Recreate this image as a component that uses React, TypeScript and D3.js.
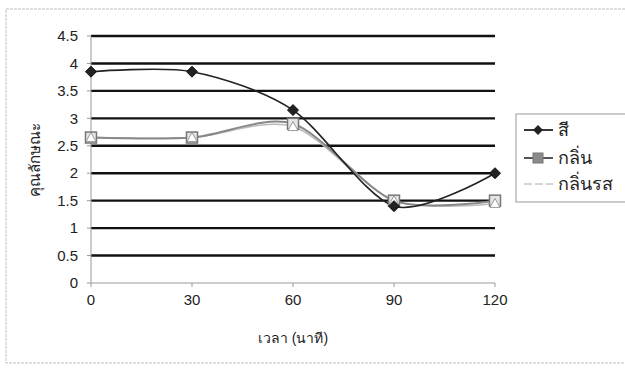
import React from "react";
import * as d3 from "d3";

const times = [0, 30, 60, 90, 120];
const colorSeries = [3.85, 3.85, 3.15, 1.4, 2.0];
const smellSeries = [2.65, 2.65, 2.9, 1.5, 1.5];
const flavorSeries = [2.65, 2.65, 2.85, 1.5, 1.45];
const yTicks = [0, 0.5, 1, 1.5, 2, 2.5, 3, 3.5, 4, 4.5];
const xTicks = [0, 30, 60, 90, 120];
const seriesNames = ["สี", "กลิ่น", "กลิ่นรส"];
const xTitle = "เวลา (นาที)";
const yTitle = "คุณลักษณะ";

const W = 625;
const H = 369;
const FONT = "'Liberation Sans', Arial, 'Noto Sans', sans-serif";

export default function App() {
  const x = d3.scaleLinear().domain([0, 120]).range([91, 495]);
  const y = d3.scaleLinear().domain([0, 4.5]).range([283, 36]);
  const line = d3
    .line<number>()
    .x((_, i) => x(times[i]))
    .y((d) => y(d))
    .curve(d3.curveCardinal.tension(0.15));

  const diamond = (cx: number, cy: number, r = 5.5) =>
    `M${cx},${cy - r}L${cx + r},${cy}L${cx},${cy + r}L${cx - r},${cy}Z`;
  const tri = (cx: number, cy: number, r = 5) =>
    `M${cx},${cy - r}L${cx + r},${cy + r * 0.8}L${cx - r},${cy + r * 0.8}Z`;

  const legendY = [130, 158, 184];

  return (
    <svg width={W} height={H} style={{ position: "absolute", left: 0, top: 0, background: "#fff" }}>
      <rect x={6} y={9} width={640} height={354} fill="none" stroke="#bbb" strokeWidth={1} strokeDasharray="3,1" />
      {yTicks.filter((t) => t > 0).map((t) => (
        <line key={t} x1={x(0)} x2={x(120)} y1={y(t)} y2={y(t)} stroke="#111" strokeWidth={2.4} />
      ))}
      <line x1={x(0)} x2={x(0)} y1={y(4.5)} y2={y(0)} stroke="#999" strokeWidth={1} />
      <line x1={x(0)} x2={x(120)} y1={y(0)} y2={y(0)} stroke="#999" strokeWidth={1} />
      {yTicks.map((t) => (
        <g key={t}>
          <line x1={x(0) - 4} x2={x(0)} y1={y(t)} y2={y(t)} stroke="#999" />
          <text x={78} y={y(t)} dy="0.35em" textAnchor="end" fontSize={15} fontFamily={FONT} fill="#222">
            {t}
          </text>
        </g>
      ))}
      {xTicks.map((t) => (
        <g key={t}>
          <line x1={x(t)} x2={x(t)} y1={y(0)} y2={y(0) + 4} stroke="#999" />
          <text x={x(t)} y={305} textAnchor="middle" fontSize={15} fontFamily={FONT} fill="#222">
            {t}
          </text>
        </g>
      ))}
      <text x={293} y={343} textAnchor="middle" fontSize={14} fontFamily={FONT} fill="#222">
        {xTitle}
      </text>
      <text
        transform={`translate(40,160) rotate(-90)`}
        textAnchor="middle"
        fontSize={15}
        fontFamily={FONT}
        fill="#222"
      >
        {yTitle}
      </text>
      <path d={line(flavorSeries) || ""} fill="none" stroke="#bbb" strokeWidth={1.5} />
      <path d={line(smellSeries) || ""} fill="none" stroke="#888" strokeWidth={2} />
      <path d={line(colorSeries) || ""} fill="none" stroke="#222" strokeWidth={1.6} />
      {smellSeries.map((v, i) => (
        <rect key={"s" + i} x={x(times[i]) - 5.5} y={y(v) - 5.5} width={11} height={11} fill="#e6e6e6" stroke="#777" strokeWidth={1.5} />
      ))}
      {flavorSeries.map((v, i) => (
        <path key={"f" + i} d={tri(x(times[i]), y(v))} fill="#fff" stroke="#999" strokeWidth={1} />
      ))}
      {colorSeries.map((v, i) => (
        <path key={"c" + i} d={diamond(x(times[i]), y(v))} fill="#222" stroke="#111" strokeWidth={1} />
      ))}
      <rect x={516} y={114} width={120} height={88} fill="#fff" stroke="#999" strokeWidth={1} />
      <line x1={524} x2={553} y1={legendY[0]} y2={legendY[0]} stroke="#222" strokeWidth={1.8} />
      <path d={diamond(538, legendY[0], 5)} fill="#222" />
      <line x1={524} x2={553} y1={legendY[1]} y2={legendY[1]} stroke="#555" strokeWidth={2} />
      <rect x={533} y={legendY[1] - 5} width={10} height={10} fill="#8a8a8a" stroke="#777" />
      <line x1={524} x2={553} y1={legendY[2]} y2={legendY[2]} stroke="#aaa" strokeWidth={1} strokeDasharray="8,3" />
      {seriesNames.map((n, i) => (
        <text key={n} x={558} y={legendY[i]} dy="0.35em" fontSize={18} fontFamily={FONT} fill="#222">
          {n}
        </text>
      ))}
    </svg>
  );
}
